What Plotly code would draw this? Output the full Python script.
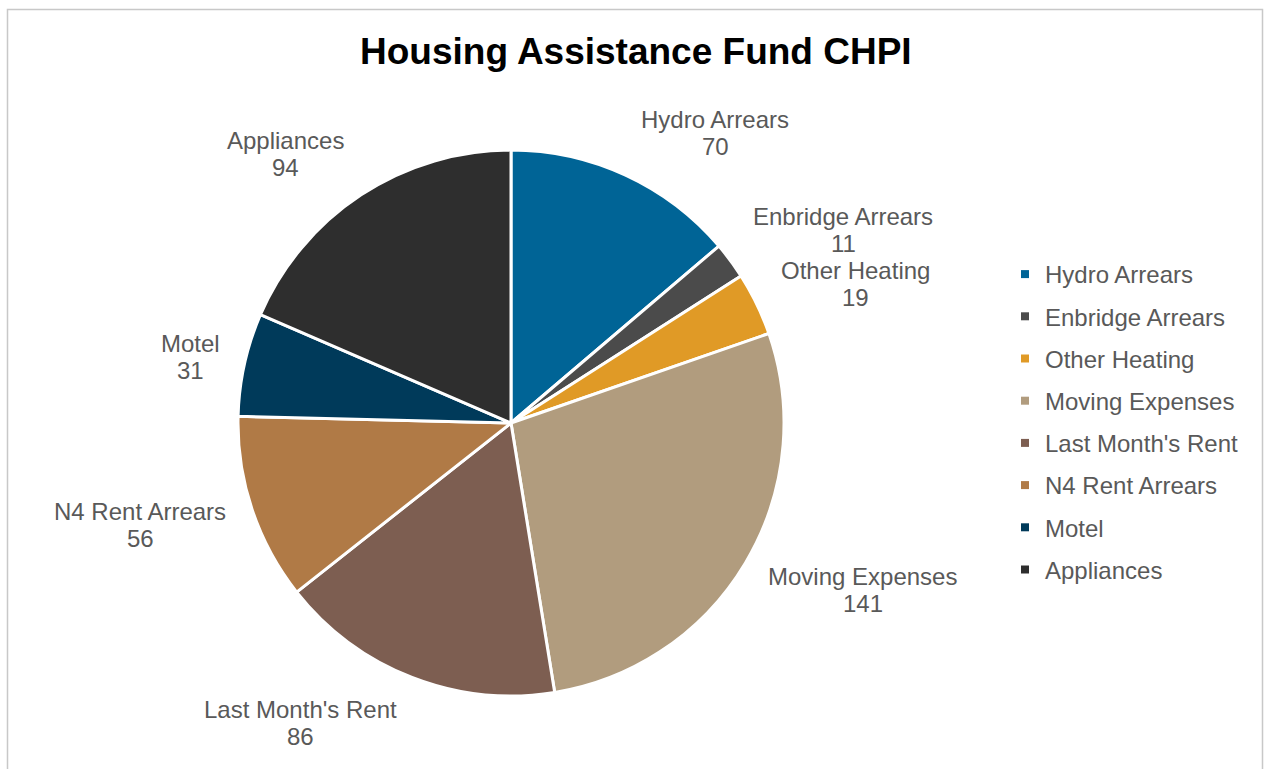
import plotly.graph_objects as go

W, H = 1265, 769

categories = ["Hydro Arrears", "Enbridge Arrears", "Other Heating", "Moving Expenses",
              "Last Month's Rent", "N4 Rent Arrears", "Motel", "Appliances"]
values = [70, 11, 19, 141, 86, 56, 31, 94]
colors = ["#006496", "#4b4b4b", "#e09a26", "#b19c7e", "#7d5e51", "#b07a46", "#003a5a", "#2e2e2e"]

# label block centres (pixels) – layout only
label_pos = [(715, 133), (843, 230), (855, 284), (863, 590),
             (300, 723), (140, 525), (190, 357), (285, 154)]
LINE_HALF = 13.5  # half the distance between the two label lines (px)

FONT = "Liberation Sans, Arial, sans-serif"
GRAY = "#595959"

cx, cy, r = 511, 423, 273

fig = go.Figure()
fig.add_trace(go.Pie(
    labels=categories, values=values, sort=False, direction="clockwise", rotation=0,
    marker=dict(colors=colors, line=dict(color="white", width=3)),
    textinfo="none", hoverinfo="label+value", showlegend=False,
    domain=dict(x=[(cx - r) / W, (cx + r) / W], y=[1 - (cy + r) / H, 1 - (cy - r) / H]),
))

for i, (cat, col) in enumerate(zip(categories, colors)):
    fig.add_trace(go.Scatter(
        x=[None], y=[None], mode="markers", name=cat, legendgroup=str(i),
        marker=dict(symbol="square", size=8, color=col), showlegend=True,
    ))

for cat, val, (px, py) in zip(categories, values, label_pos):
    for txt, yy in ((cat, py - LINE_HALF), (str(val), py + LINE_HALF)):
        fig.add_annotation(
            x=px / W, y=1 - yy / H, xref="paper", yref="paper",
            text=txt, showarrow=False,
            font=dict(family=FONT, size=24, color=GRAY), align="center",
            xanchor="center", yanchor="middle",
        )

fig.add_annotation(
    x=635.5 / W, y=1 - 52 / H, xref="paper", yref="paper",
    text="<b>Housing Assistance Fund CHPI</b>", showarrow=False,
    font=dict(family=FONT, size=37, color="#000000"), xanchor="center", yanchor="middle",
)

fig.add_shape(type="rect", xref="paper", yref="paper",
              x0=7.5 / W, x1=1262.5 / W, y0=-0.05, y1=1 - 9.5 / H,
              line=dict(color="#c8c8c8", width=1.5), fillcolor="rgba(0,0,0,0)")

fig.update_layout(
    width=W, height=H, margin=dict(l=0, r=0, t=0, b=0),
    paper_bgcolor="white", plot_bgcolor="rgba(0,0,0,0)",
    xaxis=dict(visible=False), yaxis=dict(visible=False),
    legend=dict(x=1005 / W, y=1 - 252 / H, xanchor="left", yanchor="top",
                font=dict(family=FONT, size=24, color=GRAY),
                tracegroupgap=8, itemwidth=30, bgcolor="rgba(0,0,0,0)"),
    font=dict(family=FONT),
)

fig.write_html("out.html")
